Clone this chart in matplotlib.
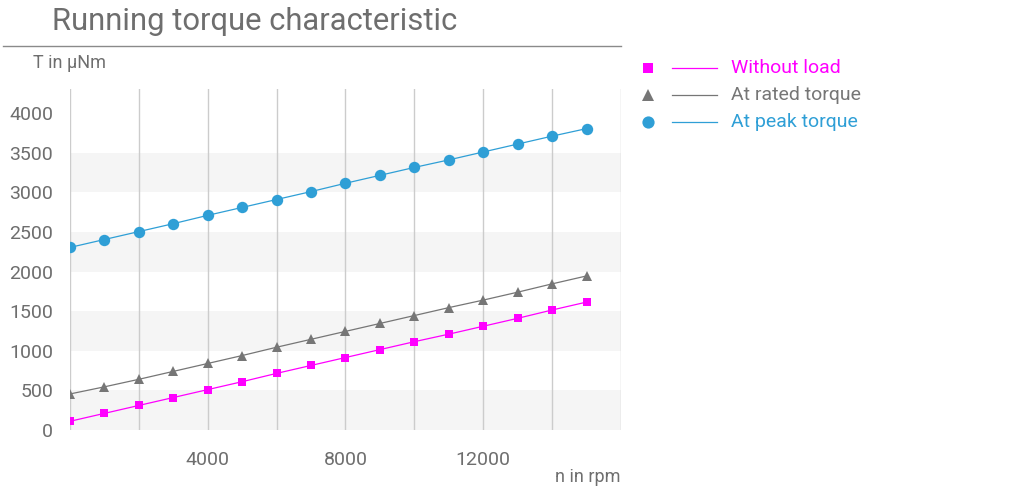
import matplotlib

matplotlib.use("Agg")
import matplotlib.pyplot as plt
from matplotlib.lines import Line2D
from matplotlib.ticker import FixedLocator, FuncFormatter


TEXT = "#6e6e6e"
GRID = "#cccccc"
BAND = "#f5f5f5"
MAGENTA = "#ff00ff"
GRAY = "#767676"
BLUE = "#2f9fd6"

speed_rpm = [0, 1000, 2000, 3000, 4000, 5000, 6000, 7000,
             8000, 9000, 10000, 11000, 12000, 13000, 14000, 15000]
torque_no_load = [110, 210, 310, 410, 510, 610, 715, 815,
                  915, 1015, 1115, 1210, 1310, 1410, 1515, 1615]
torque_rated = [455, 545, 640, 740, 840, 940, 1045, 1145,
                1245, 1345, 1445, 1545, 1640, 1740, 1845, 1945]
torque_peak = [2305, 2405, 2505, 2605, 2710, 2810, 2910, 3010,
               3115, 3215, 3315, 3410, 3510, 3610, 3710, 3805]

# label, values, colour, marker, size in plot, size in legend
series = [
    ("Without load", torque_no_load, MAGENTA, "s", 5.8, 7.6),
    ("At rated torque", torque_rated, GRAY, "^", 6.8, 8.8),
    ("At peak torque", torque_peak, BLUE, "o", 8.2, 8.8),
]

plt.rcParams["font.family"] = ["Liberation Sans Narrow", "Roboto", "DejaVu Sans"]

W, H = 1020, 500
fig = plt.figure(figsize=(W / 100, H / 100), dpi=100)
fig.patch.set_facecolor("white")
ax = fig.add_axes([70 / W, 1 - 430 / H, (621 - 70) / W, (430 - 89.4) / H])

for lo in (0, 1000, 2000, 3000):
    ax.axhspan(lo, lo + 500, color=BAND, lw=0, zorder=0)

for label, values, color, marker, ms, _ in series:
    ax.plot(speed_rpm, values, color=color, lw=0.9, marker=marker, ms=ms,
            markeredgewidth=0, zorder=3, label=label)

ax.set_xlim(0, 16000)
ax.set_ylim(0, 4300)
ax.xaxis.set_major_locator(FixedLocator(range(0, 16001, 2000)))
ax.xaxis.set_major_formatter(
    FuncFormatter(lambda v, p: f"{int(v)}" if v in (4000, 8000, 12000) else ""))
ax.yaxis.set_major_locator(FixedLocator(range(0, 4001, 500)))
ax.grid(axis="x", color=GRID, lw=1.0, zorder=1)
ax.tick_params(axis="both", length=0, labelsize=14, labelcolor=TEXT)
ax.tick_params(axis="x", pad=15)
ax.tick_params(axis="y", pad=12)
for s in ax.spines.values():
    s.set_visible(False)

# title and rule
fig.text(52 / W, 1 - 21 / H, "Running torque characteristic", fontsize=22.3,
         color=TEXT, va="center", ha="left")
fig.add_artist(Line2D([3 / W, 621 / W], [1 - 46 / H, 1 - 46 / H],
                      color="#8a8a8a", lw=1.0, transform=fig.transFigure))
fig.text(33 / W, 1 - 63 / H, "T in µNm", fontsize=13, color=TEXT,
         va="center", ha="left")
fig.text(621 / W, 1 - 477 / H, "n in rpm", fontsize=13, color=TEXT,
         va="center", ha="right")

# legend drawn by hand
for i, (label, values, color, marker, _, lms) in enumerate(series):
    y = 1 - (68 + 27 * i) / H
    fig.add_artist(Line2D([648 / W], [y], marker=marker, ms=lms,
                          color=color, markeredgewidth=0, transform=fig.transFigure))
    fig.add_artist(Line2D([672 / W, 717 / W], [y, y], color=color, lw=0.9,
                          transform=fig.transFigure))
    fig.text(731 / W, y, label, fontsize=14, color=color, va="center", ha="left")

fig.savefig("out.png", dpi=100)
